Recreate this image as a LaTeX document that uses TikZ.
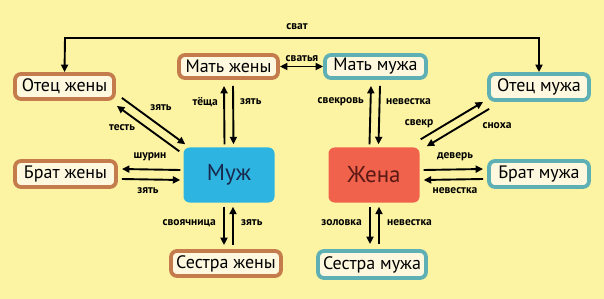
\documentclass[tikz,border=0pt]{standalone}
\usepackage{fontspec}
\setmainfont{PT Sans}
\usetikzlibrary{arrows.meta,calc}
\definecolor{bg}{RGB}{252,244,163}
\definecolor{cream}{RGB}{253,248,222}
\definecolor{orng}{RGB}{196,124,76}
\definecolor{teal}{RGB}{94,176,180}
\definecolor{blu}{RGB}{45,180,225}
\definecolor{rd}{RGB}{240,98,76}
\definecolor{navy}{RGB}{25,40,75}
\definecolor{dred}{RGB}{90,25,20}
\tikzset{
  box/.style={draw, line width=3.8pt, rounded corners=6pt, fill=cream, inner sep=0pt, font=\fontsize{18}{20}\selectfont, text=black},
  wbox/.style={box, draw=orng},
  hbox/.style={box, draw=teal},
  main/.style={rounded corners=6pt, inner sep=0pt, minimum width=91pt, minimum height=55pt, font=\fontsize{23}{25}\selectfont},
  arr/.style={line width=1.9pt, -{Triangle[length=7.5pt,width=7pt]}},
  darr/.style={line width=1.9pt, {Triangle[length=7.5pt,width=7pt]}-{Triangle[length=7.5pt,width=7pt]}},
  lbl/.style={font=\bfseries\fontsize{11.5}{13}\selectfont, inner sep=1pt}
}
\begin{document}
\begin{tikzpicture}[x=1pt,y=-1pt]
\fill[bg] (0,0) rectangle (604,299);
\useasboundingbox (0,0) rectangle (604,299);
% boxes
\node[wbox, minimum width=99pt, minimum height=25pt] (oj) at (64.5,86.5) {Отец жены};
\node[wbox, minimum width=99pt, minimum height=23pt] (mj) at (228.5,66.5) {Мать жены};
\node[hbox, minimum width=101pt, minimum height=23pt] (mm) at (375.5,66.5) {Мать мужа};
\node[hbox, minimum width=100pt, minimum height=26pt] (om) at (539,87) {Отец мужа};
\node[wbox, minimum width=101pt, minimum height=26pt] (bj) at (65.5,174) {Брат жены};
\node[hbox, minimum width=100pt, minimum height=26pt] (bm) at (539,174) {Брат мужа};
\node[wbox, minimum width=110pt, minimum height=25pt] (sj) at (226,263.5) {Сестра жены};
\node[hbox, minimum width=108pt, minimum height=27pt] (sm) at (372,264.5) {Сестра мужа};
\node[main, fill=blu, text=navy] (muzh) at (229,175) {Муж};
\node[main, fill=rd, text=dred] (zhena) at (374,175) {Жена};
% сват
\coordinate (c1) at (65,38);
\coordinate (c2) at (539,38);
\draw[darr] (oj.north) -- (c1) -- (c2) -- (om.north);
\node[lbl] (lsvat) at (297,27) {сват};
% сватья
\draw[darr] (mj.east) -- (mm.west);
\node[lbl] (lsvatya) at (302,59) {сватья};
% Мать жены - Муж
\draw[arr] ($(muzh.north)+(-4.5,-3)$) -- ($(mj.south)+(-4.5,6)$);
\draw[arr] ($(mj.south)+(4.5,6)$) -- ($(muzh.north)+(4.5,-3)$);
\node[lbl, anchor=east] (lt) at (219,102) {тёща};
\node[lbl, anchor=west] (lz1) at (239,102) {зять};
% Мать мужа - Жена
\draw[arr] ($(zhena.north)+(-4.5,-3)$) -- ($(mm.south)+(-4.5,6)$);
\draw[arr] ($(mm.south)+(4.5,6)$) -- ($(zhena.north)+(4.5,-3)$);
\node[lbl, anchor=east] (lsv) at (365,102) {свекровь};
\node[lbl, anchor=west] (ln1) at (385,102) {невестка};
% Отец жены - Муж
\draw[arr] ($(oj.south east)+(6,-3)$) -- ($(muzh.north west)+(2,-3)$);
\draw[arr] ($(muzh.north west)+(-4,4)$) -- ($(oj.south east)+(1,5)$);
\node[lbl] (lz2) at (161,108) {зять};
\node[lbl] (lts) at (122,128) {тесть};
% Отец мужа - Жена
\draw[arr] ($(zhena.north east)+(1,-8)$) -- ($(om.south west)+(-4,0)$);
\draw[arr] ($(om.south west)+(2,7)$) -- ($(zhena.north east)+(7,-1)$);
\node[lbl] (lsvekr) at (419,124) {свекр};
\node[lbl] (lsn) at (497,126) {сноха};
% Брат жены - Муж
\draw[arr] ($(muzh.west)+(-3,-5)$) -- ($(bj.east)+(4,-5)$);
\draw[arr] ($(bj.east)+(4,5)$) -- ($(muzh.west)+(-3,5)$);
\node[lbl] (lsh) at (150,157) {шурин};
\node[lbl] (lz3) at (148,191) {зять};
% Жена - Брат мужа
\draw[arr] ($(zhena.east)+(4,-5)$) -- ($(bm.west)+(-4,-5)$);
\draw[arr] ($(bm.west)+(-4,5)$) -- ($(zhena.east)+(4,5)$);
\node[lbl] (ld) at (455,157) {деверь};
\node[lbl] (ln2) at (455,191) {невестка};
% Муж - Сестра жены
\draw[arr] ($(muzh.south)+(-5,4)$) -- ($(sj.north)+(-2,-4)$);
\draw[arr] ($(sj.north)+(7,-4)$) -- ($(muzh.south)+(4,4)$);
\node[lbl, anchor=east] (lsvo) at (217,223) {своячница};
\node[lbl, anchor=west] (lz4) at (240,223) {зять};
% Жена - Сестра мужа
\draw[arr] ($(zhena.south)+(-4,4)$) -- ($(sm.north)+(-2,-5)$);
\draw[arr] ($(sm.north)+(7,-5)$) -- ($(zhena.south)+(5,4)$);
\node[lbl, anchor=east] (lzol) at (363,223) {золовка};
\node[lbl, anchor=west] (ln3) at (386,223) {невестка};
\end{tikzpicture}
\end{document}
